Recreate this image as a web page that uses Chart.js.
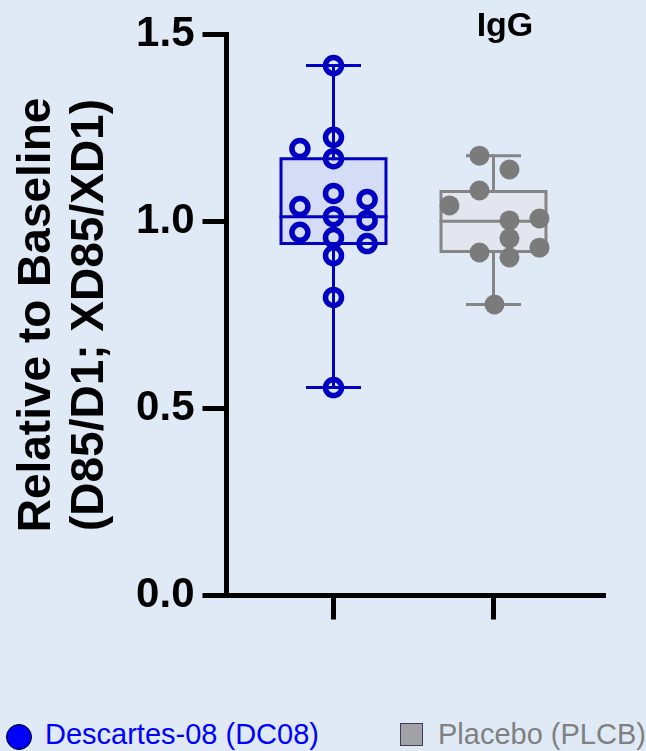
<!DOCTYPE html>
<html>
<head>
<meta charset="utf-8">
<script src="https://cdn.jsdelivr.net/npm/chart.js@4.4.1/dist/chart.umd.min.js"></script>
<style>
  html, body { margin: 0; padding: 0; background: #dfeaf6; }
  body { width: 646px; height: 751px; position: relative; overflow: hidden; font-family: "Liberation Sans", Arial, sans-serif; }
  #chart { position: absolute; left: 0; top: 0; }
  .title { position: absolute; left: 405px; top: 7px; width: 200px; text-align: center; font-size: 34px; font-weight: bold; line-height: 34px; color: #000; }
  .leg { position: absolute; font-size: 29px; line-height: 29px; white-space: nowrap; }
  .dot { position: absolute; left: 6px; top: 724px; width: 24px; height: 24px; border-radius: 50%; background: #0000ff; border: 1.5px solid #000; }
  .sq { position: absolute; left: 400px; top: 723px; width: 21px; height: 21px; background: #a2a2a6; border: 1.5px solid #3a3f55; }
</style>
</head>
<body>
<canvas id="chart" width="646" height="680"></canvas>
<div class="title">IgG</div>
<div class="dot"></div>
<div class="leg" style="left:45px; top:720px; color:#0000ff;">Descartes-08 (DC08)</div>
<div class="sq"></div>
<div class="leg" style="left:438px; top:720px; color:#808080;">Placebo (PLCB)</div>
<script>
// group positions on the x axis
var groupPos = [1, 2];
var yTicks = [0, 0.5, 1.0, 1.5];

// individual values
var dcValues = [1.417, 1.225, 1.195, 1.168, 1.075, 1.040, 1.059, 1.013, 1.003, 0.971, 0.957, 0.941, 0.909, 0.797, 0.556];
var dcLane   = [0, 0, -1, 0, 0, -1, 1, 0, 1, -1, 0, 1, 0, 0, 0];
var plValues = [1.176, 1.139, 1.083, 1.043, 1.003, 1.008, 0.955, 0.917, 0.904, 0.930, 0.778];
var plLane   = [-0.5, 0.5, -0.5, -1.5, 0.5, 1.5, 0.5, -0.5, 0.5, 1.5, 0];

// box stats: min, q1, median, q3, max
var dcBox = [0.556, 0.941, 1.013, 1.168, 1.417];
var plBox = [0.778, 0.920, 1.001, 1.080, 1.176];

var font = "'Liberation Sans', Arial, sans-serif";
var blue = '#0000c2';
var grey = '#858585';

var boxHalf = 0.328;
var capHalf = 0.1625;

function lineSet(pts, color) {
    return {
        data: pts,
        showLine: true,
        borderColor: color,
        borderWidth: 3,
        pointRadius: 0,
        fill: false,
        borderCapStyle: 'square',
        borderJoinStyle: 'miter'
    };
}

function boxSets(pos, s, color, fillColor) {
    var lo = s[0], q1 = s[1], med = s[2], q3 = s[3], hi = s[4];
    var box = lineSet([
        {x: pos - boxHalf, y: q1}, {x: pos + boxHalf, y: q1},
        {x: pos + boxHalf, y: q3}, {x: pos - boxHalf, y: q3},
        {x: pos - boxHalf, y: q1}
    ], color);
    box.fill = 'shape';
    box.backgroundColor = fillColor;
    return [
        lineSet([{x: pos, y: q3}, {x: pos, y: hi}], color),
        lineSet([{x: pos, y: lo}, {x: pos, y: q1}], color),
        lineSet([{x: pos - capHalf, y: hi}, {x: pos + capHalf, y: hi}], color),
        lineSet([{x: pos - capHalf, y: lo}, {x: pos + capHalf, y: lo}], color),
        lineSet([{x: pos - boxHalf, y: med}, {x: pos + boxHalf, y: med}], color),
        box
    ];
}

var dcPoints = {
    data: dcValues.map(function(v, i) { return {x: groupPos[0] + dcLane[i] * 0.21, y: v}; }),
    showLine: false,
    pointRadius: 8,
    pointBorderWidth: 5.5,
    pointBorderColor: blue,
    pointBackgroundColor: 'rgba(0,0,0,0)'
};
var plPoints = {
    data: plValues.map(function(v, i) { return {x: groupPos[1] + 0.006 + plLane[i] * 0.1875, y: v}; }),
    showLine: false,
    pointRadius: 10,
    pointBorderWidth: 0,
    pointBackgroundColor: '#7b7b7b'
};

var datasets = [dcPoints, plPoints]
    .concat(boxSets(groupPos[0], dcBox, blue, '#d5dcf6'))
    .concat(boxSets(groupPos[1], plBox, grey, '#e3e6ee'));

new Chart(document.getElementById('chart'), {
    type: 'line',
    data: { datasets: datasets },
    options: {
        responsive: false,
        animation: false,
        events: [],
        layout: { padding: { top: 34.5, right: 43, bottom: 0, left: 0 } },
        plugins: { legend: { display: false }, tooltip: { enabled: false } },
        scales: {
            x: {
                type: 'linear',
                min: 0.33125,
                max: 2.684375,
                afterBuildTicks: function(s) { s.ticks = groupPos.map(function(v) { return {value: v}; }); },
                afterFit: function(s) { s.height = 84.5; },
                ticks: { display: false },
                grid: { drawOnChartArea: false, drawTicks: true, tickLength: 24, lineWidth: 5, color: '#000' },
                border: { display: true, width: 5, color: '#000' }
            },
            y: {
                min: 0,
                max: 1.5,
                afterBuildTicks: function(s) { s.ticks = yTicks.map(function(v) { return {value: v}; }); },
                afterFit: function(s) { s.width = 226.5; },
                ticks: {
                    color: '#000',
                    padding: 8,
                    font: { family: font, size: 42, weight: 'bold' },
                    callback: function(v) { return v.toFixed(1); }
                },
                grid: { drawOnChartArea: false, drawTicks: true, tickLength: 24, lineWidth: 5, color: '#000' },
                border: { display: true, width: 5, color: '#000' },
                title: {
                    display: true,
                    text: ['Relative to Baseline', '(D85/D1; XD85/XD1)'],
                    color: '#000',
                    font: { family: font, size: 46, weight: 'bold', lineHeight: 1.17 },
                    padding: { top: 10, bottom: 0 }
                }
            }
        }
    }
});
</script>
</body>
</html>
